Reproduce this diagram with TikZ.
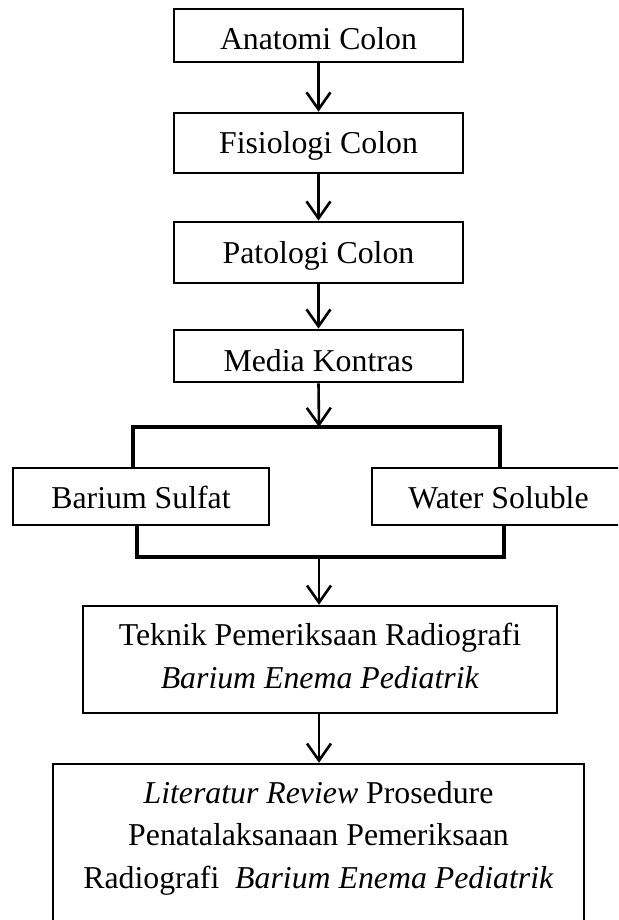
\documentclass[tikz,border=0pt]{standalone}
\usepackage{fontspec}
\setmainfont{Liberation Serif}
\usetikzlibrary{arrows.meta}
\tikzset{
  boxthick/.style={draw=black, line width=2.8pt, inner sep=0pt},
  boxthin/.style={draw=black, line width=1.3pt, inner sep=0pt},
  txt/.style={anchor=base, inner sep=0pt, font=\fontsize{31.8}{40}\selectfont},
  arr/.style={line width=2.6pt, -{Straight Barb[length=17pt,width=24pt,line width=2.6pt]}},
  brk/.style={line width=3.4pt, line join=miter}
}
\begin{document}
\begin{tikzpicture}[x=1pt,y=-1pt]
\clip (0,0) rectangle (618,920);
\fill[white] (0,0) rectangle (618,920);
% boxes
\node[boxthick, minimum width=289pt, minimum height=53pt] (b1) at (318.5,35.5) {};
\node[boxthick, minimum width=289pt, minimum height=60pt] (b2) at (318.5,143) {};
\node[boxthick, minimum width=289pt, minimum height=61pt] (b3) at (318.5,252.5) {};
\node[boxthick, minimum width=289pt, minimum height=52pt] (b4) at (318.5,356) {};
\node[boxthin, minimum width=256pt, minimum height=57pt] (bs) at (141,496.5) {};
\node[boxthin, minimum width=253pt, minimum height=57pt] (ws) at (498.5,496.5) {};
\node[boxthick, line width=2.5pt, minimum width=474pt, minimum height=107pt] (tk) at (320,659.5) {};
\node[boxthick, line width=2.5pt, minimum width=531pt, minimum height=166pt] (lr) at (318.5,847) {};
% texts
\node[txt] (t1) at (318.5,50) {Anatomi Colon};
\node[txt] (t2) at (318.5,154) {Fisiologi Colon};
\node[txt] (t3) at (318.5,263) {Patologi Colon};
\node[txt] (t4) at (318.5,371) {Media Kontras};
\node[txt] (t5) at (141,508) {Barium Sulfat};
\node[txt] (t6) at (498.5,508) {Water Soluble};
\node[txt] (t7) at (320,645) {Teknik Pemeriksaan Radiografi};
\node[txt] (t8) at (320,688) {\textit{Barium Enema Pediatrik}};
\node[txt] (t9) at (318.5,803) {\textit{Literatur Review} Prosedure};
\node[txt] (t10) at (318.5,845) {Penatalaksanaan Pemeriksaan};
\node[txt] (t11) at (318.5,888) {Radiografi\hspace{0.5em}\textit{Barium Enema Pediatrik}};
% bracket coordinates
\coordinate (ta) at (133,469);
\coordinate (tb) at (133,427);
\coordinate (tc) at (500,427);
\coordinate (td) at (500,469);
\coordinate (tm) at (319,427);
\coordinate (ua) at (137,524);
\coordinate (ub) at (137,557);
\coordinate (uc) at (504,557);
\coordinate (ud) at (504,524);
\coordinate (um) at (319,557);
\draw[brk] (ta) -- (tb) -- (tc) -- (td);
\draw[brk] (ua) -- (ub) -- (uc) -- (ud);
% arrows
\draw[arr] (b1.south) -- (b2.north);
\draw[arr] (b2.south) -- (b3.north);
\draw[arr] (b3.south) -- (b4.north);
\draw[arr] (b4.south) -- (tm);
\draw[arr] (um) -- (um |- tk.north);
\draw[arr] (tk.south -| um) -- (um |- lr.north);
\end{tikzpicture}
\end{document}
